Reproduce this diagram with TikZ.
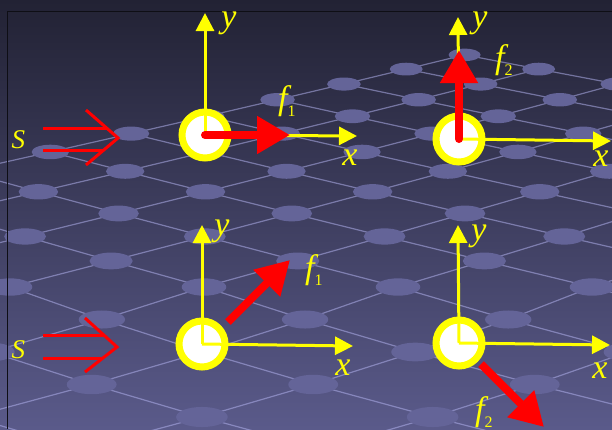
\documentclass[tikz,border=0pt]{standalone}
\usepackage{fontspec}
\setmainfont{Liberation Serif}
\usetikzlibrary{arrows.meta}
\definecolor{bgtop}{RGB}{34,34,52}
\definecolor{bgmid}{RGB}{60,60,94}
\definecolor{bgbot}{RGB}{90,90,138}
\definecolor{gridline}{RGB}{175,175,235}
\definecolor{griddot}{RGB}{100,100,152}
\definecolor{axisyellow}{RGB}{255,255,0}
\definecolor{forcered}{RGB}{255,0,0}
% point (i,j) of the floor grid -> \gx,\gy
\newcommand\gridpt[2]{%
  \pgfmathsetmacro\gn{(#2)-(#1)}%
  \pgfmathsetmacro\gy{\gn<0 ? 287-32.5*\gn : 287-826*\gn/(30.7+\gn)}%
  \pgfmathsetmacro\gx{215+(\gy+400)/687*(10+97*((#1)+(#2))-215)}}
\newcommand\sublbl[1]{\raisebox{-7pt}{\upshape\fontsize{16}{16}\selectfont #1}}
\begin{document}
\begin{tikzpicture}[x=1pt,y=-1pt,
  gridln/.style={gridline,draw opacity=0.55,line width=1.2pt},
  axis/.style={axisyellow,line width=3pt,-{Triangle[length=18pt,width=18pt]}},
  force/.style={forcered,line width=8pt,line cap=round,-{Triangle[length=33pt,width=36pt]}},
  ring/.style={circle,draw=axisyellow,line width=7pt,fill=white,minimum size=46pt,inner sep=0pt},
  lbl/.style={axisyellow,font=\fontsize{34}{34}\selectfont\itshape,anchor=base,inner sep=0pt},
  srcarrow/.style={forcered,line width=3pt}]
\useasboundingbox (0,0) rectangle (612,429);
\clip (0,0) rectangle (612,429);
\shade[top color=bgtop,middle color=bgmid,bottom color=bgbot] (0,0) rectangle (612,429);
% floor grid
\foreach \i in {-3,...,5}{
  \pgfmathtruncatemacro\jlow{\i-5}
  \foreach \j in {\jlow,...,8}{
    \pgfmathtruncatemacro\jn{\j+1}
    \gridpt{\i}{\j}\let\ax\gx\let\ay\gy
    \gridpt{\i}{\jn}
    \draw[gridln] (\ax,\ay) -- (\gx,\gy);
}}
\foreach \j in {-2,...,9}{
  \pgfmathtruncatemacro\ihigh{\j+5}
  \foreach \i in {-3,...,\ihigh}{
    \pgfmathtruncatemacro\in{\i+1}
    \gridpt{\i}{\j}\let\ax\gx\let\ay\gy
    \gridpt{\in}{\j}
    \draw[gridln] (\ax,\ay) -- (\gx,\gy);
}}
\foreach \i in {-3,...,5}{\foreach \j in {-2,...,9}{
  \gridpt{\i}{\j}
  \fill[griddot] (\gx,\gy) ellipse [x radius={0.027*(\gy+539)},y radius={0.0105*(\gy+539)}];
}}
\draw[black!60!bgtop,line width=1pt] (7,429) -- (7,11) -- (612,11);
% incoming S
\draw[srcarrow] (43,128) -- (106.6,128);
\draw[srcarrow] (43,150) -- (103.8,150);
\draw[srcarrow] (86,110) -- (118,138) -- (86,165);
\draw[srcarrow] (43,335) -- (103.8,335);
\draw[srcarrow] (43,358) -- (103,358);
\draw[srcarrow] (85,318) -- (117,347) -- (85,372);
\node[lbl,font=\fontsize{27}{27}\selectfont\itshape] (s1) at (18.5,148) {S};
\node[lbl,font=\fontsize{27}{27}\selectfont\itshape] (s2) at (18.5,358) {S};
% rings and axes
\node[ring] (r1) at (205,135) {};
\node[ring] (r2) at (459,139) {};
\node[ring] (r3) at (202,344) {};
\node[ring] (r4) at (459,343) {};
\coordinate (ty1) at (205,13);  \coordinate (tx1) at (357,136);
\coordinate (ty2) at (458,17);  \coordinate (tx2) at (611,141);
\coordinate (ty3) at (202,225); \coordinate (tx3) at (353,346);
\coordinate (ty4) at (458,225); \coordinate (tx4) at (610,345);
\foreach \k in {1,2,3,4}{
  \draw[axis] (r\k.center) -- (ty\k);
  \draw[axis] (r\k.center) -- (tx\k);
}
% forces
\coordinate (tf1) at (290,135);
\coordinate (tf2) at (459,50);
\coordinate (fs3) at (228,322); \coordinate (tf3) at (290,260);
\coordinate (fs4) at (481,364); \coordinate (tf4) at (544,427);
\draw[force] (r1.center) -- (tf1);
\draw[force] (r2.center) -- (tf2);
\draw[force,line cap=butt] (fs3) -- (tf3);
\draw[force,line cap=butt] (fs4) -- (tf4);
% labels
\node[lbl] (ly1) at (229,27) {y};
\node[lbl] (lx1) at (350,165) {x};
\node[lbl] (ly2) at (480,27) {y};
\node[lbl] (lx2) at (601,166) {x};
\node[lbl] (ly3) at (222,235) {y};
\node[lbl] (lx3) at (343,375) {x};
\node[lbl] (ly4) at (479,240) {y};
\node[lbl] (lx4) at (600,378) {x};
\node[lbl,anchor=base west] (lf1) at (278,109.5) {f\sublbl{1}};
\node[lbl,anchor=base west] (lf2) at (495,68) {f\sublbl{2}};
\node[lbl,anchor=base west] (lf3) at (305,278) {f\sublbl{1}};
\node[lbl,anchor=base west] (lf4) at (475,420) {f\sublbl{2}};
\end{tikzpicture}
\end{document}
